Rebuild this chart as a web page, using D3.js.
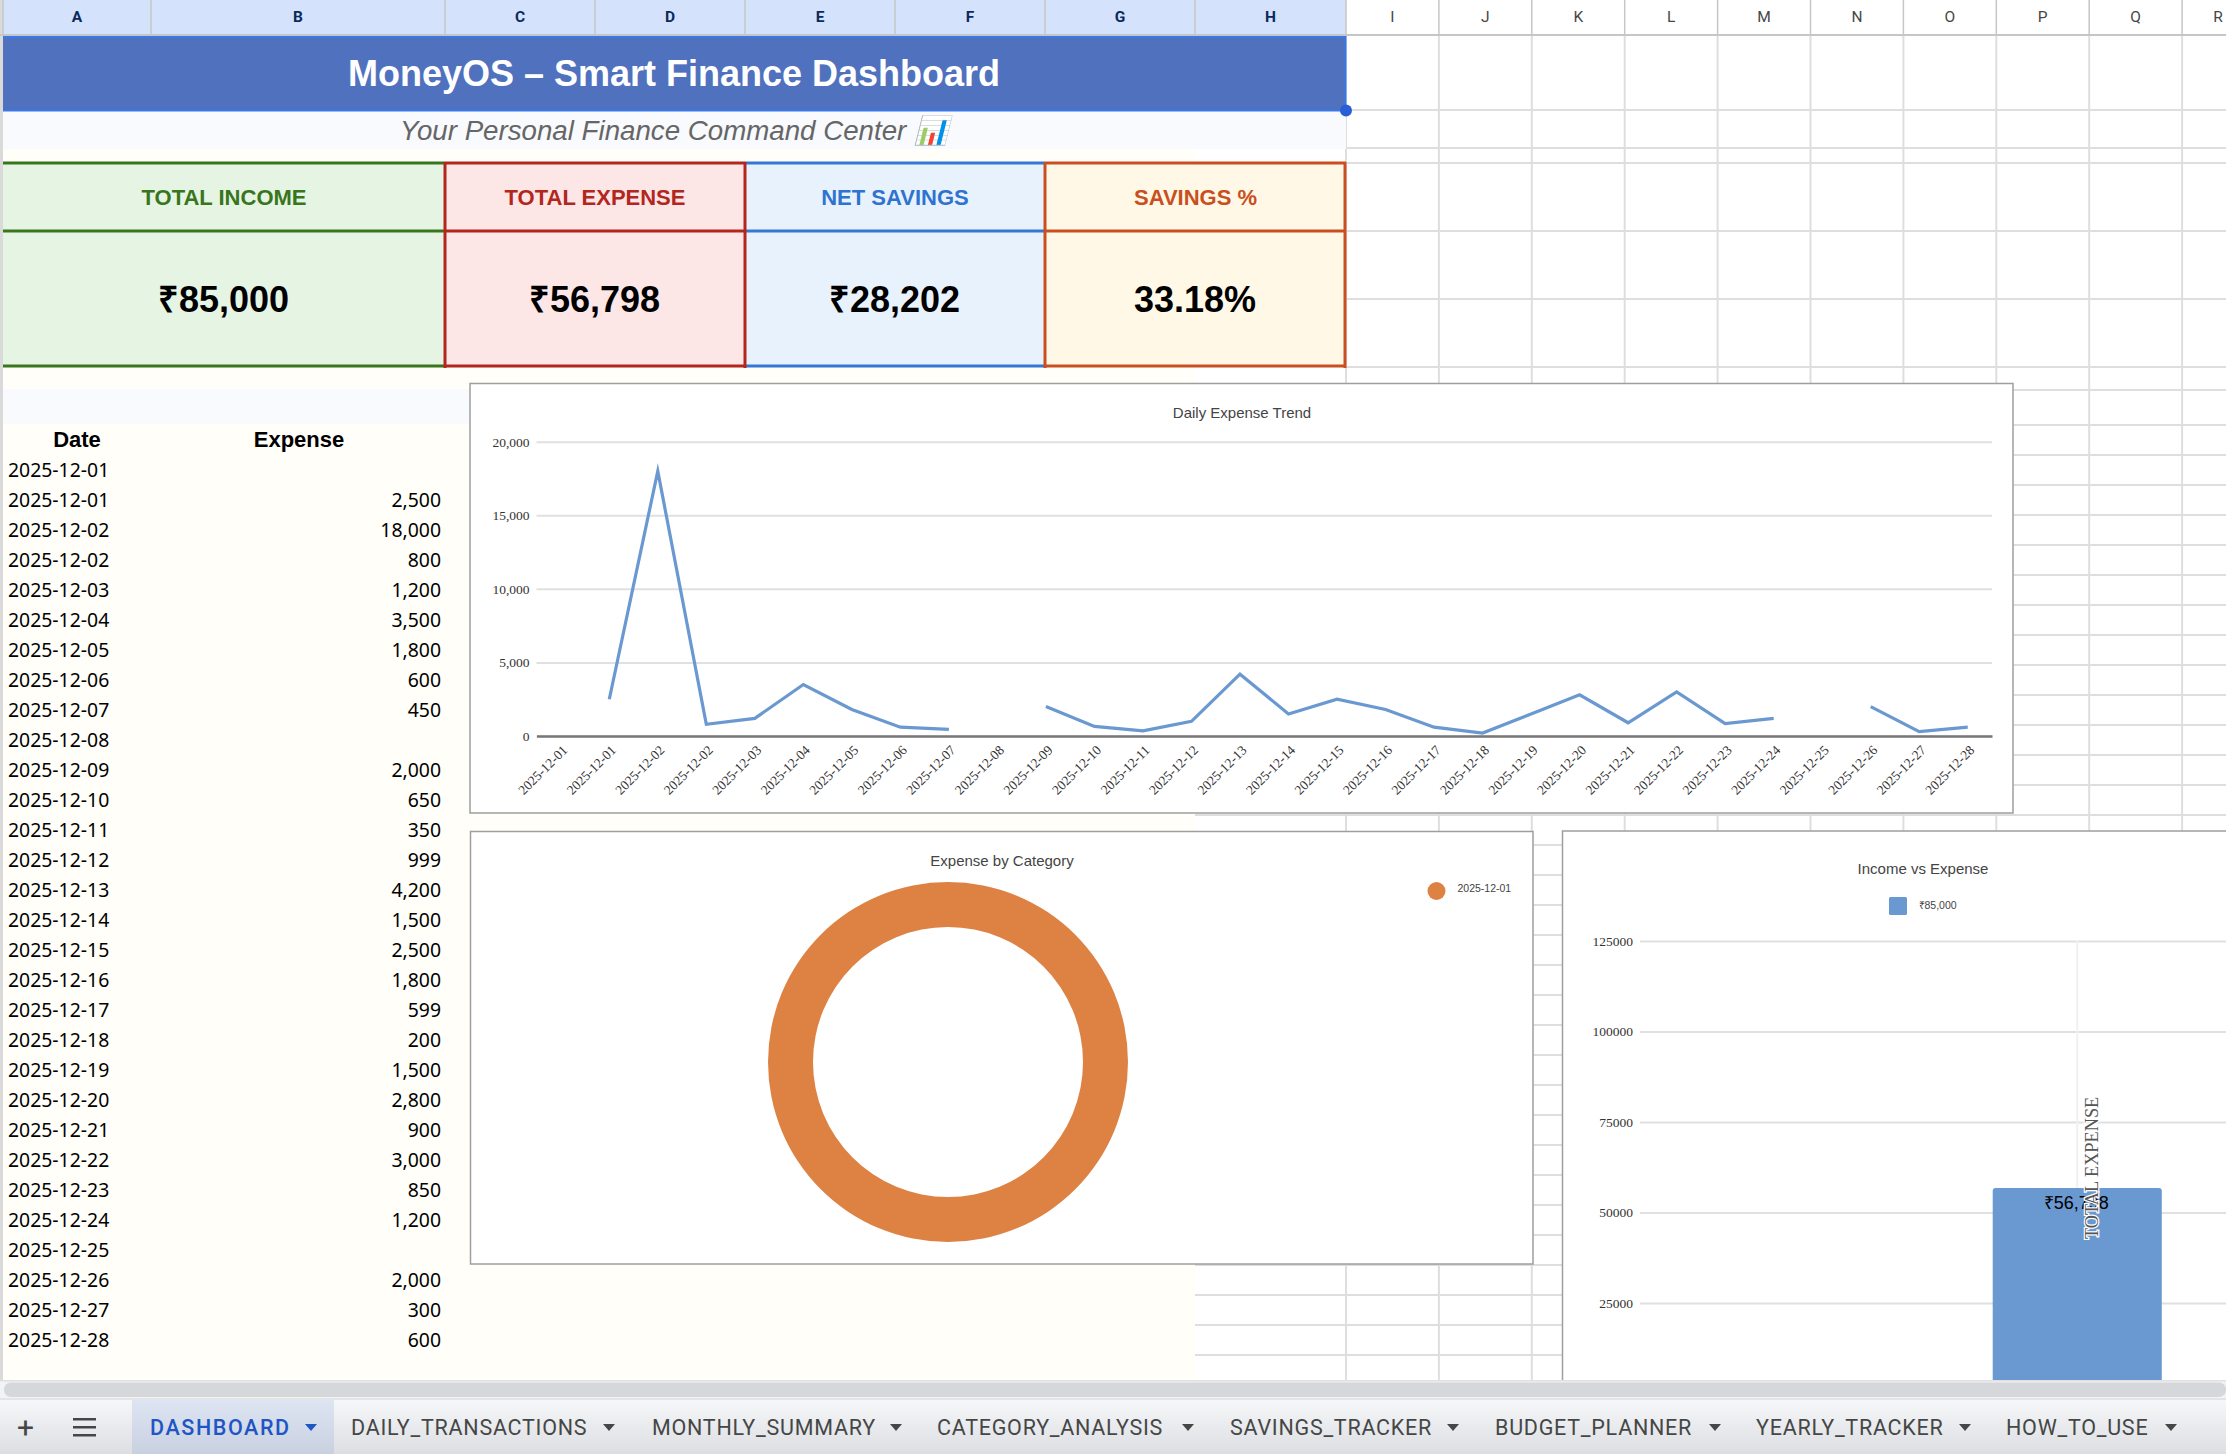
<!DOCTYPE html>
<html>
<head>
<meta charset="utf-8" />
<title>MoneyOS</title>
<script src="https://cdn.jsdelivr.net/npm/d3@7"></script>
<style>
  html, body { margin: 0; padding: 0; background: #fff; overflow: hidden; }
  svg { display: block; }
  text { font-family: 'Liberation Sans', Arial, sans-serif; }
  .serif text, text.serif { font-family: 'Liberation Serif', 'Times New Roman', serif; }
</style>
</head>
<body>
<script>
// ---- data ----
const columnLetters = ['A','B','C','D','E','F','G','H','I','J','K','L','M','N','O','P','Q','R'];
const kpiLabels = ['TOTAL INCOME', 'TOTAL EXPENSE', 'NET SAVINGS', 'SAVINGS %'];
const kpiValues = ['₹85,000', '₹56,798', '₹28,202', '33.18%'];
const expenseDates = [
  '2025-12-01','2025-12-01','2025-12-02','2025-12-02','2025-12-03','2025-12-04',
  '2025-12-05','2025-12-06','2025-12-07','2025-12-08','2025-12-09','2025-12-10',
  '2025-12-11','2025-12-12','2025-12-13','2025-12-14','2025-12-15','2025-12-16',
  '2025-12-17','2025-12-18','2025-12-19','2025-12-20','2025-12-21','2025-12-22',
  '2025-12-23','2025-12-24','2025-12-25','2025-12-26','2025-12-27','2025-12-28',
];
const expenseValues = [
  null,2500,18000,800,1200,3500,1800,600,450,null,2000,650,350,999,4200,
  1500,2500,1800,599,200,1500,2800,900,3000,850,1200,null,2000,300,600,
];
const trendTicks = [0, 5000, 10000, 15000, 20000];
const donutLabels = ['2025-12-01'];
const donutValues = [2500];
const barCategories = ['', 'TOTAL EXPENSE'];
const barValues = [null, 56798];
const barLabels = ['', '₹56,798'];
const barSeriesName = '₹85,000';
const barTicks = [25000, 50000, 75000, 100000, 125000];
const tabNames = [
  'DASHBOARD','DAILY_TRANSACTIONS','MONTHLY_SUMMARY','CATEGORY_ANALYSIS',
  'SAVINGS_TRACKER','BUDGET_PLANNER','YEARLY_TRACKER','HOW_TO_USE',
];

// ---- page layout ----
const width = 2226;
const height = 1454;
const edgeColA = [3, 151, 445, 595, 745, 895, 1045, 1195, 1346];
const edgeGrid = d3.range(10).map((i) => 1346 + i * 92.9);
const colEdges = edgeColA.concat(edgeGrid.slice(1));
const rowLines = [110, 148, 163, 231, 299, 367, 390].concat(d3.range(425, 1380, 30));
const cardEdges = [3, 445, 745, 1045, 1346];
const cardStyles = [
  { bg: '#e6f4e4', line: '#38761d', text: '#38761d' },
  { bg: '#fce6e6', line: '#b3261e', text: '#b3261e' },
  { bg: '#e8f2fd', line: '#3477d4', text: '#2f73d0' },
  { bg: '#fff8e6', line: '#c94f20', text: '#c94f20' },
];
const tabStarts = [150, 351, 652, 937, 1230, 1495, 1756, 2006];
const tabArrows = [311, 609, 896, 1188, 1453, 1715, 1965, 2171];
const lineBlue = '#6a98d0';

const svg = d3
  .select('body')
  .append('svg')
  .attr('width', width)
  .attr('height', height)
  .attr('viewBox', [0, 0, width, height]);

const defs = svg.append('defs');
function gradient(id, top, bottom) {
  const g = defs.append('linearGradient').attr('id', id).attr('x2', 0).attr('y2', 1);
  g.append('stop').attr('offset', 0).attr('stop-color', top);
  g.append('stop').attr('offset', 1).attr('stop-color', bottom);
}
gradient('tabBar', '#f6f7f9', '#dcdee2');
gradient('tabActive', '#dde4f2', '#c9d1e1');

////// SHEET //////
const sheet = svg.append('g');

sheet.append('rect').attr('x', 3).attr('y', 149).attr('width', 1192).attr('height', 1231).attr('fill', '#fffef9');

// grid lines right of the dashboard block
sheet
  .selectAll('line.row')
  .data(rowLines)
  .join('line')
  .attr('class', 'row')
  .attr('x1', (d) => (d < 390 ? 1346 : 1195))
  .attr('x2', width)
  .attr('y1', (d) => d)
  .attr('y2', (d) => d)
  .attr('stroke', '#dedede')
  .attr('stroke-width', 2);

sheet
  .selectAll('line.col')
  .data(edgeGrid)
  .join('line')
  .attr('class', 'col')
  .attr('x1', (d) => d)
  .attr('x2', (d) => d)
  .attr('y1', 36)
  .attr('y2', 1380)
  .attr('stroke', '#dedede')
  .attr('stroke-width', 2);

// left gutter
sheet.append('rect').attr('x', 0).attr('y', 0).attr('width', 3).attr('height', 1380).attr('fill', '#dadada');

// column header strip
sheet.append('rect').attr('x', 3).attr('y', 0).attr('width', 1343).attr('height', 34).attr('fill', '#d5e2fb');
sheet.append('rect').attr('x', 0).attr('y', 34).attr('width', width).attr('height', 2).attr('fill', '#c4c7c5');
sheet
  .selectAll('line.head')
  .data(colEdges)
  .join('line')
  .attr('class', 'head')
  .attr('x1', (d) => d)
  .attr('x2', (d) => d)
  .attr('y1', 0)
  .attr('y2', 34)
  .attr('stroke', '#c4c7c5')
  .attr('stroke-width', 1.5);
sheet
  .selectAll('text.letter')
  .data(columnLetters)
  .join('text')
  .attr('class', 'letter')
  .attr('x', (d, i) => (i === 17 ? 2218 : (colEdges[i] + colEdges[i + 1]) / 2))
  .attr('y', 17)
  .attr('dy', '0.35em')
  .attr('text-anchor', 'middle')
  .attr('font-size', 15.5)
  .attr('font-weight', (d, i) => (i < 8 ? 700 : 400))
  .attr('fill', (d, i) => (i < 8 ? '#0b2a5c' : '#444746'))
  .style('font-family', 'Roboto')
  .text((d) => d);

// title band
sheet.append('rect').attr('x', 3).attr('y', 36).attr('width', 1343).attr('height', 75).attr('fill', '#4f71be');
sheet
  .append('text')
  .attr('x', 674)
  .attr('y', 73)
  .attr('dy', '0.35em')
  .attr('text-anchor', 'middle')
  .attr('font-size', 36)
  .attr('font-weight', 700)
  .attr('fill', '#fff')
  .text('MoneyOS – Smart Finance Dashboard');

// subtitle band
sheet.append('rect').attr('x', 3).attr('y', 111).attr('width', 1343).attr('height', 38).attr('fill', '#f8fafd');
sheet
  .append('text')
  .attr('x', 674)
  .attr('y', 130)
  .attr('dy', '0.35em')
  .attr('text-anchor', 'middle')
  .attr('font-size', 27.7)
  .attr('font-style', 'italic')
  .attr('fill', '#666')
  .text('Your Personal Finance Command Center 📊');

// selection outline on the title cell
sheet
  .append('path')
  .attr('d', d3.line()([[3, 37], [1345.5, 37], [1345.5, 110.5], [3, 110.5]]))
  .attr('fill', 'none')
  .attr('stroke', '#3b78e7')
  .attr('stroke-width', 2);
sheet.append('circle').attr('cx', 1346).attr('cy', 110.5).attr('r', 6).attr('fill', '#2a5ed6');

// KPI cards
const cards = sheet
  .selectAll('g.card')
  .data(kpiLabels)
  .join('g')
  .attr('class', 'card');
cards
  .append('rect')
  .attr('x', (d, i) => cardEdges[i])
  .attr('y', 163)
  .attr('width', (d, i) => cardEdges[i + 1] - cardEdges[i])
  .attr('height', 204)
  .attr('fill', (d, i) => cardStyles[i].bg);
[163, 231, 366].forEach((y) => {
  cards
    .append('line')
    .attr('x1', (d, i) => cardEdges[i])
    .attr('x2', (d, i) => cardEdges[i + 1])
    .attr('y1', y)
    .attr('y2', y)
    .attr('stroke', (d, i) => cardStyles[i].line)
    .attr('stroke-width', 3);
});
// only the red and the orange card have side borders
[1, 3].forEach((i) => {
  [cardEdges[i], cardEdges[i + 1]].forEach((x) => {
    sheet
      .append('line')
      .attr('x1', x - (x === 1346 ? 1 : 0))
      .attr('x2', x - (x === 1346 ? 1 : 0))
      .attr('y1', 162)
      .attr('y2', 368)
      .attr('stroke', cardStyles[i].line)
      .attr('stroke-width', 3);
  });
});
cards
  .append('text')
  .attr('x', (d, i) => (cardEdges[i] + cardEdges[i + 1]) / 2)
  .attr('y', 197)
  .attr('dy', '0.35em')
  .attr('text-anchor', 'middle')
  .attr('font-size', 22)
  .attr('font-weight', 700)
  .attr('fill', (d, i) => cardStyles[i].text)
  .text((d) => d);
cards
  .append('text')
  .attr('x', (d, i) => (cardEdges[i] + cardEdges[i + 1]) / 2 - 0.5)
  .attr('y', 299)
  .attr('dy', '0.35em')
  .attr('text-anchor', 'middle')
  .attr('font-size', 36)
  .attr('font-weight', 700)
  .attr('fill', '#000')
  .text((d, i) => kpiValues[i]);

// table
sheet.append('rect').attr('x', 3).attr('y', 389).attr('width', 1192).attr('height', 35).attr('fill', '#f8fafd');
[['Date', 77], ['Expense', 299]].forEach(([label, x]) => {
  sheet
    .append('text')
    .attr('x', x)
    .attr('y', 439)
    .attr('dy', '0.35em')
    .attr('text-anchor', 'middle')
    .attr('font-size', 22)
    .attr('font-weight', 700)
    .text(label);
});
const tableRow = d3.scaleLinear().domain([0, 29]).range([470, 1340]);
const rows = sheet.selectAll('g.rowcell').data(expenseDates).join('g').attr('class', 'rowcell');
rows
  .append('text')
  .attr('x', 8)
  .attr('y', (d, i) => tableRow(i))
  .attr('dy', '0.35em')
  .attr('font-size', 19.4)
  .style('font-family', 'Noto Sans')
  .text((d) => d);
rows
  .append('text')
  .attr('x', 441)
  .attr('y', (d, i) => tableRow(i))
  .attr('dy', '0.35em')
  .attr('text-anchor', 'end')
  .attr('font-size', 19.4)
  .style('font-family', 'Noto Sans')
  .text((d, i) => (expenseValues[i] === null ? '' : d3.format(',')(expenseValues[i])));

function chartBox(x, y, w, h) {
  return svg
    .append('rect')
    .attr('x', x)
    .attr('y', y)
    .attr('width', w)
    .attr('height', h)
    .attr('fill', '#fff')
    .attr('stroke', '#9e9e9e')
    .attr('stroke-width', 1.5);
}
function chartTitle(label, x, y) {
  svg
    .append('text')
    .attr('x', x)
    .attr('y', y)
    .attr('dy', '0.35em')
    .attr('text-anchor', 'middle')
    .attr('font-size', 15)
    .attr('fill', '#444')
    .text(label);
}
function styleGrid(axis, gridColor) {
  axis.select('.domain').remove();
  axis.selectAll('.tick line').attr('stroke', gridColor).attr('stroke-width', 2);
  axis
    .selectAll('.tick text')
    .attr('font-size', 13.5)
    .attr('fill', '#333')
    .style('font-family', "'Liberation Serif'");
}

////// LINE CHART //////
chartBox(470, 383.5, 1543, 429.5);
chartTitle('Daily Expense Trend', 1242, 412.5);

const trendX = d3.scaleBand().domain(d3.range(expenseDates.length)).range([536.5, 1992]);
const trendY = d3.scaleLinear().domain([0, 20000]).range([736, 441.7]);

const trendYAxis = svg
  .append('g')
  .attr('transform', 'translate(536.5,0)')
  .call(d3.axisLeft(trendY).tickValues(trendTicks).tickSize(-1455.5).tickPadding(7).tickFormat(d3.format(',')));
styleGrid(trendYAxis, '#e0e0e0');

const trendXAxis = svg
  .append('g')
  .attr('transform', 'translate(0,736)')
  .call(d3.axisBottom(trendX).tickSize(0).tickFormat((i) => expenseDates[i]));
trendXAxis.select('.domain').attr('stroke', '#777').attr('stroke-width', 2.5);
trendXAxis
  .selectAll('.tick text')
  .attr('font-size', 13.5)
  .attr('fill', '#333')
  .style('font-family', "'Liberation Serif'")
  .attr('text-anchor', 'end')
  .attr('dy', 0)
  .attr('y', 0)
  .attr('transform', 'translate(7.5,15) rotate(-45)');

const trendLine = d3
  .line()
  .defined((d) => d !== null)
  .x((d, i) => trendX(i) + trendX.bandwidth() / 2)
  .y((d) => trendY(d));
svg
  .append('path')
  .datum(expenseValues)
  .attr('d', trendLine)
  .attr('fill', 'none')
  .attr('stroke', lineBlue)
  .attr('stroke-width', 3.2)
  .attr('stroke-linejoin', 'miter')
  .attr('stroke-miterlimit', 10);

////// DONUT //////
chartBox(470.5, 831.5, 1062.5, 432.5);
chartTitle('Expense by Category', 1002, 861);

const pie = d3.pie().sort(null);
const arc = d3.arc().innerRadius(135).outerRadius(180);
svg
  .append('g')
  .attr('transform', 'translate(948,1062)')
  .selectAll('path')
  .data(pie(donutValues))
  .join('path')
  .attr('d', arc)
  .attr('fill', '#de8244');

svg.append('circle').attr('cx', 1436.5).attr('cy', 891).attr('r', 9).attr('fill', '#de8244');
svg
  .append('text')
  .attr('x', 1457.5)
  .attr('y', 888)
  .attr('dy', '0.35em')
  .attr('font-size', 10.5)
  .attr('fill', '#444')
  .text(donutLabels[0]);

////// BAR CHART //////
chartBox(1562.5, 831, 760, 700);
chartTitle('Income vs Expense', 1923, 868.5);

svg.append('rect').attr('x', 1889).attr('y', 897).attr('width', 18).attr('height', 18).attr('rx', 1.5).attr('fill', lineBlue);
svg
  .append('text')
  .attr('x', 1918.5)
  .attr('y', 905)
  .attr('dy', '0.35em')
  .attr('font-size', 10.5)
  .attr('fill', '#444')
  .text(barSeriesName);

const barX = d3.scaleBand().domain(barCategories).range([1640, 2223]).paddingInner(0.42).paddingOuter(0.21);
const barY = d3.scaleLinear().domain([0, 125000]).range([1393.5, 941]);
const barAxis = svg
  .append('g')
  .attr('transform', 'translate(1640,0)')
  .call(d3.axisLeft(barY).tickValues(barTicks).tickSize(-586).tickPadding(7).tickFormat(d3.format('d')));
styleGrid(barAxis, '#e0e0e0');

const barCenter = barX('TOTAL EXPENSE') + barX.bandwidth() / 2;
svg
  .append('line')
  .attr('x1', barCenter)
  .attr('x2', barCenter)
  .attr('y1', barY(125000))
  .attr('y2', barY(barValues[1]))
  .attr('stroke', '#f0f0f0')
  .attr('stroke-width', 2);
svg
  .selectAll('rect.bar')
  .data(barValues.filter((d) => d !== null))
  .join('rect')
  .attr('class', 'bar')
  .attr('x', barX('TOTAL EXPENSE'))
  .attr('width', barX.bandwidth())
  .attr('y', (d) => barY(d))
  .attr('height', (d) => barY(0) - barY(d))
  .attr('rx', 3)
  .attr('fill', lineBlue);
svg
  .append('text')
  .attr('x', barCenter - 1)
  .attr('y', 1203)
  .attr('dy', '0.35em')
  .attr('text-anchor', 'middle')
  .attr('font-size', 18)
  .attr('fill', '#000')
  .text(barLabels[1]);
svg
  .append('text')
  .attr('class', 'serif')
  .attr('transform', `translate(${barCenter + 14},1239) rotate(-90)`)
  .attr('dy', '0.35em')
  .attr('font-size', 18.3)
  .attr('fill', '#555')
  .attr('stroke', '#fff')
  .attr('stroke-width', 2.5)
  .attr('paint-order', 'stroke')
  .text(barCategories[1]);

////// BOTTOM CHROME //////
const chrome = svg.append('g');
chrome.append('rect').attr('x', 0).attr('y', 1380).attr('width', width).attr('height', 20).attr('fill', '#f1f3f4');
chrome.append('rect').attr('x', 4).attr('y', 1382.5).attr('width', width - 4).attr('height', 14.5).attr('rx', 7).attr('fill', '#d6d7db');
chrome.append('rect').attr('x', 0).attr('y', 1380).attr('width', width).attr('height', 1.5).attr('fill', '#e0e0e0');
chrome.append('rect').attr('x', 0).attr('y', 1398).attr('width', width).attr('height', 2).attr('fill', '#e3e4e6');
chrome.append('rect').attr('x', 0).attr('y', 1400).attr('width', width).attr('height', 54).attr('fill', 'url(#tabBar)');
chrome.append('rect').attr('x', 132).attr('y', 1400).attr('width', 202).attr('height', 54).attr('fill', 'url(#tabActive)');

chrome
  .append('text')
  .attr('x', 25.5)
  .attr('y', 1427)
  .attr('dy', '0.35em')
  .attr('text-anchor', 'middle')
  .attr('font-size', 30)
  .attr('fill', '#444746')
  .style('font-family', 'Roboto')
  .text('+');
[-8, 0, 8].forEach((dy) => {
  chrome.append('rect').attr('x', 73).attr('y', 1426 + dy).attr('width', 23).attr('height', 2.5).attr('fill', '#444746');
});

const tabs = chrome.selectAll('g.tab').data(tabNames).join('g').attr('class', 'tab');
tabs
  .append('text')
  .attr('x', (d, i) => tabStarts[i])
  .attr('y', 1427.5)
  .attr('dy', '0.35em')
  .attr('font-size', 21.5)
  .attr('font-weight', (d, i) => (i === 0 ? 500 : 400))
  .attr('letter-spacing', (d, i) => (i === 0 ? 1.6 : 0.75))
  .attr('fill', (d, i) => (i === 0 ? '#1f55c4' : '#444746'))
  .style('font-family', 'Roboto')
  .text((d) => d);
tabs
  .append('path')
  .attr('d', (d, i) => `M${tabArrows[i] - 6},1424 h12 l-6,7 z`)
  .attr('fill', (d, i) => (i === 0 ? '#1f55c4' : '#444746'));
</script>
</body>
</html>
